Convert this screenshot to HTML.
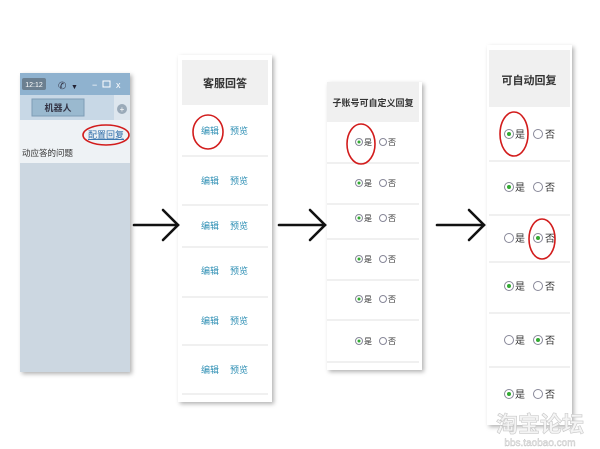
<!DOCTYPE html>
<html><head><meta charset="utf-8"><style>
html,body{margin:0;padding:0;background:#fff;width:600px;height:449px;overflow:hidden}
svg{display:block}
text{font-family:"Liberation Sans","Noto Sans CJK SC",sans-serif}
</style></head><body>
<svg width="600" height="449" viewBox="0 0 600 449" xmlns="http://www.w3.org/2000/svg">
<defs>
<filter id="sh" x="-10%" y="-5%" width="125%" height="115%"><feDropShadow dx="2" dy="2" stdDeviation="2" flood-color="#000" flood-opacity="0.3"/></filter>
</defs>
<!-- Panel 1 -->
<g filter="url(#sh)">
<rect x="20" y="73" width="110" height="299" fill="#ccd7e1"/>
</g>
<rect x="20" y="73" width="110" height="22" fill="#8fb2cf"/>
<rect x="22" y="78" width="24" height="12" rx="2" fill="#6b7f90"/>
<text x="34" y="87" font-size="7" fill="#fff" text-anchor="middle">12:12</text>
<text x="58" y="89" font-size="10" fill="#334">✆</text>
<text x="71" y="89" font-size="7" fill="#223">▼</text>
<text x="92" y="88" font-size="9" fill="#fff">−</text>
<rect x="103" y="81" width="7" height="6" fill="none" stroke="#fff" stroke-width="1"/>
<text x="116" y="88" font-size="9" fill="#fff">x</text>
<rect x="20" y="95" width="110" height="25" fill="#c8d8e6"/>
<rect x="32" y="99" width="52" height="17" fill="#9ab9cf" stroke="#7e9db5"/>
<text x="58" y="111" font-size="9" font-weight="bold" fill="#334" text-anchor="middle">机器人</text>
<rect x="114" y="95" width="16" height="25" fill="#dde6ee"/>
<circle cx="122" cy="109" r="5" fill="#9aaab9"/>
<text x="122" y="112" font-size="8" fill="#fff" text-anchor="middle">+</text>
<rect x="20" y="120" width="110" height="43" fill="#eef2f5"/>
<text x="88" y="138" font-size="9" fill="#2a6aa8" text-decoration="underline">配置回复</text>
<text x="22" y="156" font-size="8.5" fill="#333">动应答的问题</text>
<ellipse cx="106" cy="135" rx="23" ry="10" fill="none" stroke="#d21c1c" stroke-width="1.6"/>

<!-- Panel 2 -->
<rect x="178" y="55" width="94" height="347" fill="#fff" filter="url(#sh)"/>
<rect x="182" y="60" width="86" height="45" fill="#f0f0f0"/>
<text x="225" y="87" font-size="11" font-weight="bold" fill="#333" text-anchor="middle">客服回答</text>
<g stroke="#e2e2e2" stroke-width="1">
<line x1="182" y1="156" x2="268" y2="156"/><line x1="182" y1="205" x2="268" y2="205"/>
<line x1="182" y1="247" x2="268" y2="247"/><line x1="182" y1="297" x2="268" y2="297"/>
<line x1="182" y1="345" x2="268" y2="345"/><line x1="182" y1="394" x2="268" y2="394"/>
</g>
<g font-size="9" fill="#2e8fb4" text-anchor="middle">
<text x="210" y="134">编辑</text><text x="239" y="134">预览</text>
<text x="210" y="184">编辑</text><text x="239" y="184">预览</text>
<text x="210" y="229">编辑</text><text x="239" y="229">预览</text>
<text x="210" y="274">编辑</text><text x="239" y="274">预览</text>
<text x="210" y="324">编辑</text><text x="239" y="324">预览</text>
<text x="210" y="373">编辑</text><text x="239" y="373">预览</text>
</g>
<ellipse cx="208" cy="132" rx="15" ry="17" fill="none" stroke="#d21c1c" stroke-width="1.6"/>

<!-- Panel 3 -->
<rect x="327" y="82" width="95" height="288" fill="#fff" filter="url(#sh)"/>
<rect x="327" y="82" width="92" height="40" fill="#f0f0f0"/>
<text x="373" y="106" font-size="9" font-weight="bold" fill="#333" text-anchor="middle">子账号可自定义回复</text>
<g stroke="#e2e2e2"><line x1="327" y1="163" x2="419" y2="163"/><line x1="327" y1="204" x2="419" y2="204"/><line x1="327" y1="239" x2="419" y2="239"/><line x1="327" y1="280" x2="419" y2="280"/><line x1="327" y1="320" x2="419" y2="320"/><line x1="327" y1="362" x2="419" y2="362"/></g>
<g id="r3">
</g>
<g font-size="8" fill="#333">
<g transform="translate(0,142)"><circle cx="359" cy="0" r="3.5" fill="#fff" stroke="#889"/><circle cx="359" cy="0" r="1.5" fill="#3a3"/><text x="364" y="3">是</text><circle cx="383" cy="0" r="3.5" fill="#fff" stroke="#889"/><text x="388" y="3">否</text></g>
<g transform="translate(0,183)"><circle cx="359" cy="0" r="3.5" fill="#fff" stroke="#889"/><circle cx="359" cy="0" r="1.5" fill="#3a3"/><text x="364" y="3">是</text><circle cx="383" cy="0" r="3.5" fill="#fff" stroke="#889"/><text x="388" y="3">否</text></g>
<g transform="translate(0,218)"><circle cx="359" cy="0" r="3.5" fill="#fff" stroke="#889"/><circle cx="359" cy="0" r="1.5" fill="#3a3"/><text x="364" y="3">是</text><circle cx="383" cy="0" r="3.5" fill="#fff" stroke="#889"/><text x="388" y="3">否</text></g>
<g transform="translate(0,259)"><circle cx="359" cy="0" r="3.5" fill="#fff" stroke="#889"/><circle cx="359" cy="0" r="1.5" fill="#3a3"/><text x="364" y="3">是</text><circle cx="383" cy="0" r="3.5" fill="#fff" stroke="#889"/><text x="388" y="3">否</text></g>
<g transform="translate(0,299)"><circle cx="359" cy="0" r="3.5" fill="#fff" stroke="#889"/><circle cx="359" cy="0" r="1.5" fill="#3a3"/><text x="364" y="3">是</text><circle cx="383" cy="0" r="3.5" fill="#fff" stroke="#889"/><text x="388" y="3">否</text></g>
<g transform="translate(0,341)"><circle cx="359" cy="0" r="3.5" fill="#fff" stroke="#889"/><circle cx="359" cy="0" r="1.5" fill="#3a3"/><text x="364" y="3">是</text><circle cx="383" cy="0" r="3.5" fill="#fff" stroke="#889"/><text x="388" y="3">否</text></g>
</g>
<ellipse cx="361" cy="144" rx="14" ry="20" fill="none" stroke="#d21c1c" stroke-width="1.6"/>

<!-- Panel 4 -->
<rect x="487" y="45" width="85" height="380" fill="#fff" filter="url(#sh)"/>
<rect x="489" y="50" width="81" height="57" fill="#f0f0f0"/>
<text x="529" y="84" font-size="11" font-weight="bold" fill="#333" text-anchor="middle">可自动回复</text>
<g stroke="#e2e2e2"><line x1="489" y1="161" x2="570" y2="161"/><line x1="489" y1="215" x2="570" y2="215"/><line x1="489" y1="262" x2="570" y2="262"/><line x1="489" y1="313" x2="570" y2="313"/><line x1="489" y1="367" x2="570" y2="367"/></g>
<g font-size="10" fill="#333">
<g transform="translate(0,134)"><circle cx="509" cy="0" r="4.5" fill="#fff" stroke="#889"/><circle cx="509" cy="0" r="2" fill="#3a3"/><text x="515" y="4">是</text><circle cx="538" cy="0" r="4.5" fill="#fff" stroke="#889"/><text x="545" y="4">否</text></g>
<g transform="translate(0,187)"><circle cx="509" cy="0" r="4.5" fill="#fff" stroke="#889"/><circle cx="509" cy="0" r="2" fill="#3a3"/><text x="515" y="4">是</text><circle cx="538" cy="0" r="4.5" fill="#fff" stroke="#889"/><text x="545" y="4">否</text></g>
<g transform="translate(0,238)"><circle cx="509" cy="0" r="4.5" fill="#fff" stroke="#889"/><text x="515" y="4">是</text><circle cx="538" cy="0" r="4.5" fill="#fff" stroke="#889"/><circle cx="538" cy="0" r="2" fill="#3a3"/><text x="545" y="4">否</text></g>
<g transform="translate(0,286)"><circle cx="509" cy="0" r="4.5" fill="#fff" stroke="#889"/><circle cx="509" cy="0" r="2" fill="#3a3"/><text x="515" y="4">是</text><circle cx="538" cy="0" r="4.5" fill="#fff" stroke="#889"/><text x="545" y="4">否</text></g>
<g transform="translate(0,340)"><circle cx="509" cy="0" r="4.5" fill="#fff" stroke="#889"/><text x="515" y="4">是</text><circle cx="538" cy="0" r="4.5" fill="#fff" stroke="#889"/><circle cx="538" cy="0" r="2" fill="#3a3"/><text x="545" y="4">否</text></g>
<g transform="translate(0,394)"><circle cx="509" cy="0" r="4.5" fill="#fff" stroke="#889"/><circle cx="509" cy="0" r="2" fill="#3a3"/><text x="515" y="4">是</text><circle cx="538" cy="0" r="4.5" fill="#fff" stroke="#889"/><text x="545" y="4">否</text></g>
</g>
<ellipse cx="514" cy="134" rx="14" ry="22" fill="none" stroke="#d21c1c" stroke-width="1.6"/>
<ellipse cx="542" cy="239" rx="13" ry="20" fill="none" stroke="#d21c1c" stroke-width="1.6"/>

<!-- Arrows -->
<g stroke="#111" stroke-width="2.6" fill="none" stroke-linecap="round">
<line x1="134" y1="225" x2="178" y2="225"/><polyline points="163,210 178,225 163,240"/>
<line x1="279" y1="225" x2="325" y2="225"/><polyline points="310,210 325,225 310,240"/>
<line x1="437" y1="225" x2="484" y2="225"/><polyline points="469,210 484,225 469,240"/>
</g>

<!-- watermark -->
<text x="540" y="432" font-size="22" font-weight="bold" fill="#f4f4f4" stroke="#c8c8c8" stroke-width="0.6" text-anchor="middle">淘宝论坛</text>
<text x="540" y="446" font-size="10" fill="#f4f4f4" stroke="#c0c0c0" stroke-width="0.4" text-anchor="middle">bbs.taobao.com</text>
</svg>
</body></html>
